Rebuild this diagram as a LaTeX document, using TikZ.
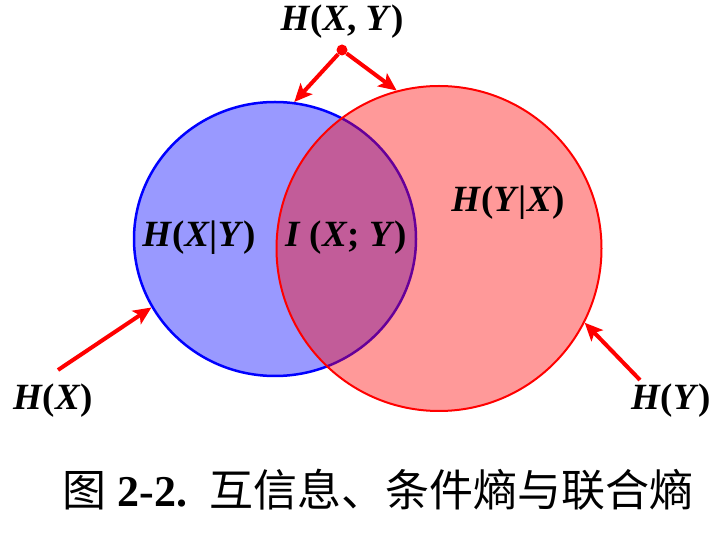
\documentclass[tikz,border=0pt]{standalone}
\usepackage{fontspec}
\setmainfont{Liberation Serif}
\newfontfamily\cjk{Noto Sans CJK SC}
\usetikzlibrary{shapes.geometric,arrows.meta}
\tikzstyle{setx}=[ellipse,draw=blue,line width=2.5pt,fill=blue,fill opacity=0.4,minimum width=282pt,minimum height=274pt]
\tikzstyle{sety}=[circle,draw=red,line width=2pt,fill=red,fill opacity=0.4,minimum size=325pt]
\tikzstyle{lbl}=[font=\fontsize{37}{40}\selectfont\bfseries,inner sep=0pt]
\tikzstyle{ptr}=[-{Stealth[length=18pt,width=16pt,inset=4pt]},red,line width=4pt]
\begin{document}
\begin{tikzpicture}[x=1pt,y=-1pt]
  \useasboundingbox (0,0) rectangle (718,534);

  \node[setx] (X) at (275,239) {};
  \node[sety] (Y) at (439,248.5) {};

  \node[lbl] (HXY) at (342,22) {\textit{H}(\textit{X}, \textit{Y})};
  \node[circle,fill=red,inner sep=0pt,minimum size=11pt] (dot) at (342,50) {};
  \node[lbl] (HXgY) at (199,238) {\textit{H}(\textit{X}|\textit{Y})};
  \node[lbl] (IXY) at (346,238) {\textit{I} (\textit{X}; \textit{Y})};
  \node[lbl] (HYgX) at (508,203) {\textit{H}(\textit{Y}|\textit{X})};
  \node[lbl] (HX) at (53,401) {\textit{H}(\textit{X})};
  \node[lbl] (HY) at (671,401) {\textit{H}(\textit{Y})};

  \coordinate (tX) at (58,370);
  \coordinate (tY) at (640,380);

  \draw[ptr] (dot)--(X.82); \draw[ptr] (dot)--(Y.105);
  \draw[ptr] (tX)--(X.209); \draw[ptr] (tY)--(Y.-27);

  \node[font=\fontsize{44}{48}\selectfont] (cap) at (378,490)
    {{\cjk 图} \textbf{2-2.}\ \ {\cjk 互信息、条件熵与联合熵}};

\end{tikzpicture}
\end{document}
